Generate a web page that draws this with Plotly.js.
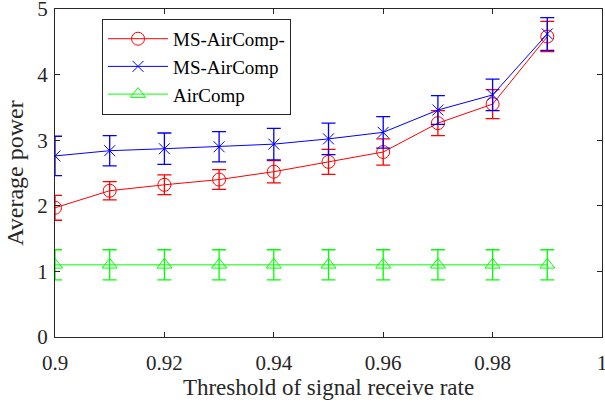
<!DOCTYPE html>
<html><head><meta charset="utf-8">
<script src="https://cdn.plot.ly/plotly-3.0.1.min.js"></script>
<style>html,body{margin:0;padding:0;background:#fff}#chart{width:605px;height:404px}</style>
</head><body><div id="chart"></div>
<script>
const thresholds = [0.90,0.91,0.92,0.93,0.94,0.95,0.96,0.97,0.98,0.99];
const msAirCompMinus = [1.97,2.23,2.32,2.40,2.52,2.67,2.82,3.26,3.55,4.58];
const msAirCompMinusErr = [0.19,0.14,0.15,0.15,0.17,0.19,0.20,0.19,0.22,0.23];
const msAirComp = [2.76,2.84,2.87,2.90,2.94,3.02,3.12,3.46,3.69,4.62];
const msAirCompErr = [0.30,0.23,0.24,0.23,0.24,0.24,0.24,0.22,0.24,0.25];
const airComp = [1.10,1.10,1.10,1.10,1.10,1.10,1.10,1.10,1.10,1.10];
const airCompErr = [0.23,0.23,0.23,0.23,0.23,0.23,0.23,0.23,0.23,0.23];
const names = ['MS-AirComp-','MS-AirComp','AirComp'];
const xTicks = [0.9,0.92,0.94,0.96,0.98,1];
const xTickText = ['0.9','0.92','0.94','0.96','0.98','1'];
const yTicks = [0,1,2,3,4,5];

const FONT = 'Liberation Serif, Times New Roman, serif';
function tr(y, err, name, color, symbol, size) {
  return {
    x: thresholds, y: y, name: name, type: 'scatter', mode: 'lines+markers',
    line: {color: color, width: 1},
    marker: {symbol: symbol, size: size, color: color, line: {color: color, width: 1}},
    error_y: {type: 'data', array: err, visible: true, color: color, thickness: 1.3, width: 7}
  };
}
const data = [
  tr(msAirCompMinus, msAirCompMinusErr, names[0], '#ff0000', 'circle-open', 13),
  tr(msAirComp, msAirCompErr, names[1], '#0000ff', 'x-thin-open', 11),
  tr(airComp, airCompErr, names[2], '#00ff00', 'triangle-up-open', 13)
];
const axisCommon = {
  showline: true, linecolor: '#262626', linewidth: 1, mirror: 'ticks',
  ticks: 'inside', ticklen: 5, tickcolor: '#262626', showgrid: false, zeroline: false,
  ticklabeloverflow: 'allow',
  tickfont: {family: FONT, size: 21, color: '#262626'}
};
const layout = {
  width: 605, height: 404,
  margin: {l: 55, r: 3, t: 9, b: 67},
  paper_bgcolor: '#fff', plot_bgcolor: '#fff',
  font: {family: FONT, color: '#262626'},
  xaxis: Object.assign({}, axisCommon, {
    range: [0.9, 1], tickvals: xTicks, ticktext: xTickText, ticklabelstandoff: 7,
    title: {text: 'Threshold of signal receive rate', font: {family: FONT, size: 23, color: '#262626'}, standoff: 4}
  }),
  yaxis: Object.assign({}, axisCommon, {
    range: [0, 5], tickvals: yTicks, ticklabelstandoff: 2,
    title: {text: 'Average power', font: {family: FONT, size: 24, color: '#262626'}, standoff: 6}
  }),
  showlegend: true,
  legend: {
    x: 0.086, y: 0.97, xanchor: 'left', yanchor: 'top',
    bgcolor: '#fff', bordercolor: '#262626', borderwidth: 1,
    font: {family: FONT, size: 19, color: '#000'},
    tracegroupgap: 0, itemwidth: 60
  }
};
Plotly.newPlot('chart', data, layout, {displayModeBar: false, staticPlot: true});
</script></body></html>
